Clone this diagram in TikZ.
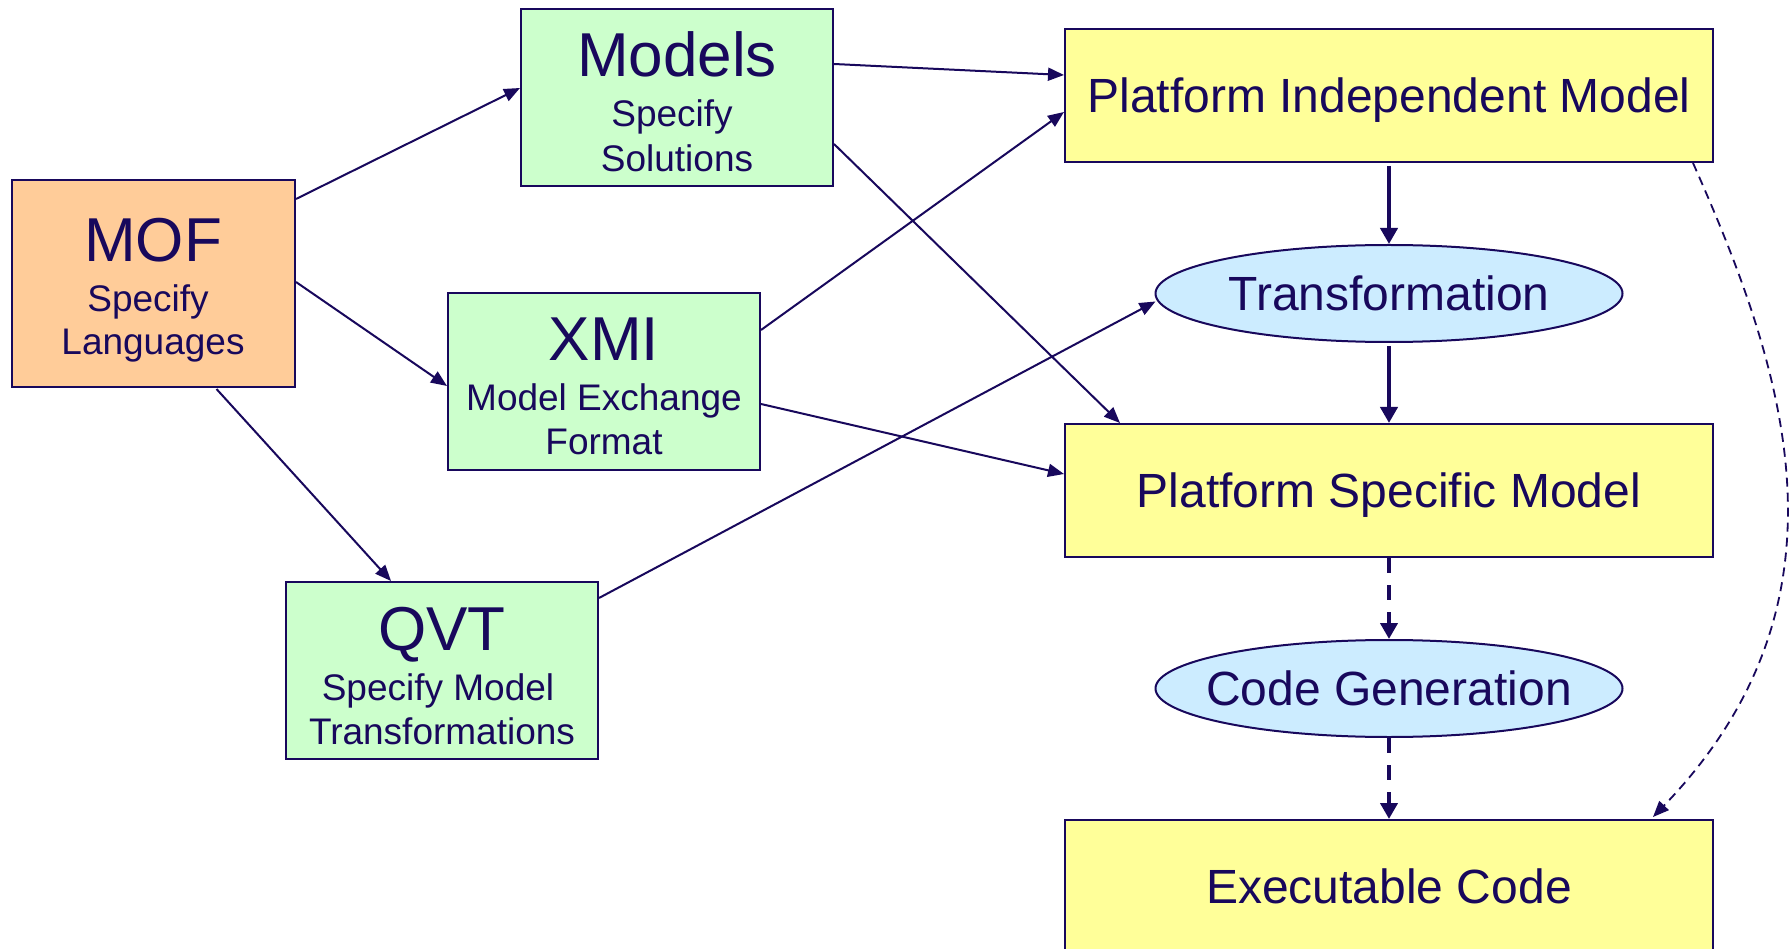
\documentclass[tikz,border=0pt]{standalone}
\usepackage{fontspec}
\setmainfont{Liberation Sans}
\usetikzlibrary{arrows.meta,shapes.geometric,calc}
\definecolor{ink}{RGB}{24,8,92}
\definecolor{moffill}{HTML}{FFCC99}
\definecolor{greenfill}{HTML}{CCFFCC}
\definecolor{yellowfill}{HTML}{FFFF99}
\definecolor{bluefill}{HTML}{CCECFF}
\begin{document}
\begin{tikzpicture}[x=1pt,y=-1pt,
  specbox/.style={draw=ink, line width=2pt, rectangle, inner sep=0pt,
    minimum width=312pt, minimum height=177pt, fill=greenfill},
  widebox/.style={draw=ink, line width=2pt, rectangle, inner sep=0pt,
    minimum width=648pt, minimum height=133pt, fill=yellowfill},
  oval/.style={ellipse, draw=ink, line width=2pt, fill=bluefill, inner sep=0pt,
    minimum width=467pt, minimum height=97pt},
  mainlabel/.style={inner sep=0pt, text height=34.4pt, text depth=0pt,
    font=\fontsize{48}{58}\selectfont, text=ink},
  titletext/.style={anchor=base, inner sep=0pt, font=\fontsize{62}{62}\selectfont, text=ink},
  subtext/.style={anchor=base, inner sep=0pt, font=\fontsize{37}{43}\selectfont, text=ink},
  link/.style={draw=ink, line width=2pt, -{Triangle[length=16pt,width=13pt]}},
  flow/.style={draw=ink, line width=4pt, -{Triangle[length=16pt,width=17pt]}},
  flowdash/.style={flow, dash pattern=on 15pt off 12pt},
  curvelink/.style={draw=ink, line width=1.8pt, dash pattern=on 9pt off 6pt,
    -{Triangle[length=16pt,width=13pt]}}
]
\useasboundingbox (0,0) rectangle (1789,949);
\clip (0,0) rectangle (1789,949);
\fill[white] (0,0) rectangle (1789,949);

% language boxes
\node[specbox, fill=moffill, minimum width=283pt, minimum height=207pt] (mof) at (153.5,283.5) {};
\node[titletext] (moft) at (153,262) {MOF};
\node[subtext] (mofs1) at (148,312) {Specify};
\node[subtext] (mofs2) at (153,355) {Languages};

\node[specbox] (models) at (677,97.5) {};
\node[titletext] (modelst) at (677,77) {Models};
\node[subtext] (modelss1) at (672,127) {Specify};
\node[subtext] (modelss2) at (677,172) {Solutions};

\node[specbox] (xmi) at (604,381.5) {};
\node[titletext] (xmit) at (604,361) {XMI};
\node[subtext] (xmis1) at (604,411) {Model Exchange};
\node[subtext] (xmis2) at (604,455) {Format};

\node[specbox] (qvt) at (442,670.5) {};
\node[titletext] (qvtt) at (442,650) {QVT};
\node[subtext] (qvts1) at (438,700) {Specify Model};
\node[subtext] (qvts2) at (442,744) {Transformations};

% model chain
\node[widebox] (pim) at (1389,95.5) {};
\node[mainlabel] (pimt) at (pim) {Platform Independent Model};
\node[oval] (trans) at (1389,293.5) {};
\node[mainlabel] (transt) at (trans) {Transformation};
\node[widebox] (psm) at (1389,490.5) {};
\node[mainlabel] (psmt) at (psm) {Platform Specific Model};
\node[oval] (codegen) at (1389,688.5) {};
\node[mainlabel] (codegent) at (codegen) {Code Generation};
\node[widebox] (exec) at (1389,886.5) {};
\node[mainlabel] (exect) at (exec) {Executable Code};

% connectors from the language boxes
\draw[link] ($(mof.north east)+(0,20)$) -- ($(models.west)+(0,-9.5)$);
\draw[link] ($(mof.east)+(0,-1.5)$) -- ($(xmi.west)+(0,4.5)$);
\draw[link] ($(mof.south)+(63,1)$) -- ($(qvt.north)+(-51,0)$);
\draw[link] ($(models.east)+(0,-33.5)$) -- ($(pim.west)+(0,-20.5)$);
\draw[link] ($(models.east)+(0,46.5)$) -- ($(psm.north west)+(56,0)$);
\draw[link] ($(xmi.east)+(0,-51.5)$) -- ($(pim.west)+(0,16.5)$);
\draw[link] ($(xmi.east)+(0,22.5)$) -- ($(psm.west)+(0,-16.5)$);
\draw[link] ($(qvt.north east)+(0,17)$) -- ($(trans.west)+(1,8)$);

% main flow
\draw[flow] ($(pim.south)+(0,3)$) -- (trans.north);
\draw[flow] ($(trans.south)+(0,3)$) -- (psm.north);
\draw[flowdash] (psm.south) -- (codegen.north);
\draw[flowdash] (codegen.south) -- (exec.north);

% direct generation path
\coordinate (cstart) at ($(pim.south east)+(-21,0)$);
\coordinate (cend) at ($(exec.north east)+(-61,-2)$);
\draw[curvelink] (cstart) .. controls (1785,370) and (1862,600) .. (cend);
\end{tikzpicture}
\end{document}
